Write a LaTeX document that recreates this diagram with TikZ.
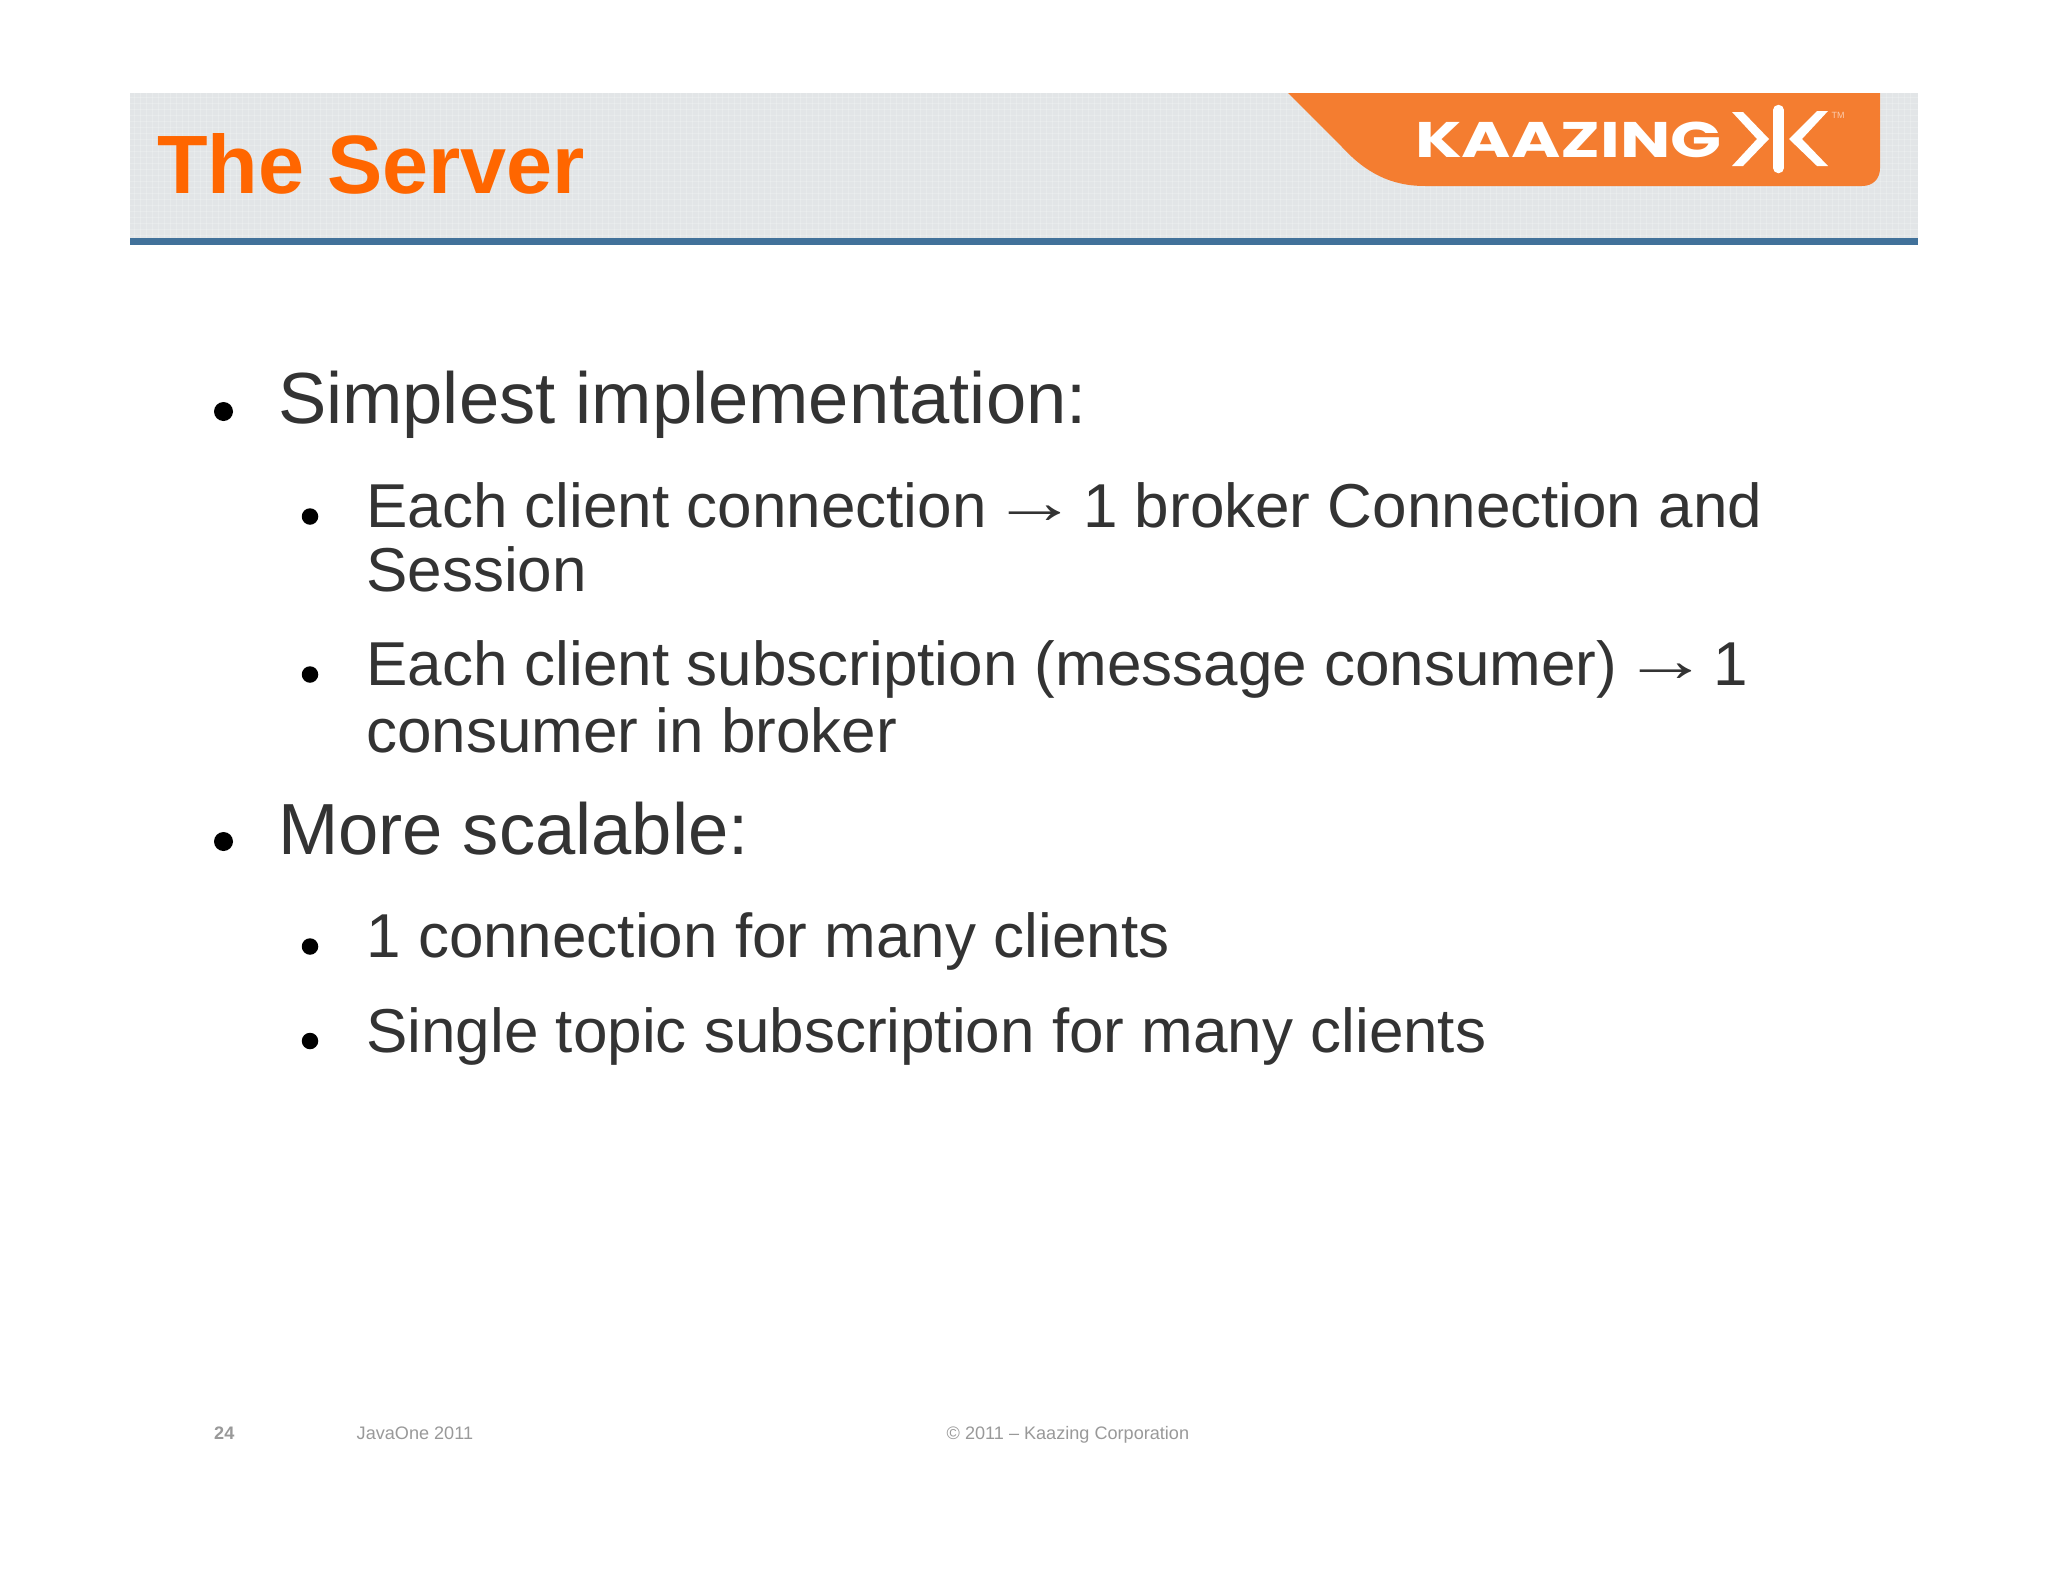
\documentclass[tikz,border=0pt]{standalone}
\usepackage{fontspec}
\setmainfont{Liberation Sans}
\newfontfamily\logofont{Poppins}
\definecolor{bandgrey}{HTML}{E2E5E7}
\definecolor{bandblue}{HTML}{41719A}
\definecolor{logoorange}{HTML}{F47D30}
\definecolor{titleorange}{HTML}{FF6600}
\definecolor{bodygrey}{HTML}{333333}
\definecolor{footgrey}{HTML}{999999}
\newcommand{\slidearrow}{\makebox[62pt]{\raisebox{4pt}{\scalebox{1.4}[1]{→}}}}
\tikzset{
	txt/.style={anchor=base west, inner sep=0pt, outer sep=0pt, text=bodygrey},
	lvlone/.style={txt, font=\fontsize{72.4}{72}\selectfont},
	lvltwo/.style={txt, font=\fontsize{62}{62}\selectfont},
	foot/.style={anchor=base west, inner sep=0pt, text=footgrey, font=\fontsize{18.1}{18}\selectfont},
	dotone/.style={circle, fill=black, inner sep=0pt, minimum size=19pt},
	dottwo/.style={circle, fill=black, inner sep=0pt, minimum size=16.5pt}
}
\begin{document}
\begin{tikzpicture}[x=1pt,y=1pt]
				\useasboundingbox (0, 0) rectangle (2048, -1582);
				\fill[white] (0, 0) rectangle (2048, -1582);
				
				\fill[bandgrey] (130, -93) rectangle (1918, -238);
				\foreach \gx in {134,140,...,1915} \draw[white, opacity=0.2, line width=1pt] (\gx, -93) -- (\gx, -238);
				\foreach \gy in {-97,-103,...,-236} \draw[white, opacity=0.2, line width=1pt] (130, \gy) -- (1918, \gy);
				\fill[bandblue] (130, -238) rectangle (1918, -245);
				
				\fill[logoorange] (1288, -93) -- (1880, -93) -- (1880, -168) .. controls (1880, -179) and (1873, -186) .. (1862, -186) -- (1425, -186) .. controls (1390, -186) and (1365, -172) .. (1342, -147) -- cycle;
				
				\node[anchor=base west, inner sep=0pt, text=titleorange, font=\fontsize{82.8}{83}\selectfont\bfseries] (title) at (157, -193) {The Server};
				\node[anchor=base west, inner sep=0pt, text=white, font=\logofont\fontsize{50}{50}\selectfont\bfseries] (logotext) at (1415, -157) {\scalebox{1.34}[1]{KAAZING}};
				
				\fill[white] (1732, -112) -- (1743, -112) -- (1769, -139) -- (1743, -166) -- (1732, -166) -- (1757, -139) -- cycle;
				\fill[white] (1828, -111) -- (1817, -111) -- (1789, -139) -- (1817, -166) -- (1828, -166) -- (1802, -139) -- cycle;
				\draw[white, line width=10.5pt, line cap=round] (1778.5, -110) -- (1778.5, -168);
				\node[inner sep=0pt, text=white!60!logoorange, font=\fontsize{9}{9}\selectfont] (logotm) at (1838, -115) {TM};
				
				\node[dotone] (dotsimplest) at (223.5, -411.5) {};
				\node[lvlone] (simplest) at (278, -423) {Simplest implementation:};
				
				\node[dottwo] (dotconn) at (310, -516.5) {};
				\node[lvltwo] (conn) at (366.4, -527) {Each client connection \slidearrow\ 1 broker Connection and};
				\node[lvltwo] (session) at (366.4, -591) {Session};
				
				\node[dottwo] (dotsub) at (310, -674.5) {};
				\node[lvltwo] (sub) at (366.4, -685) {Each client subscription (message consumer) \slidearrow\ 1};
				\node[lvltwo] (cons) at (366.4, -752) {consumer in broker};
				
				\node[dotone] (dotscal) at (223.5, -841.5) {};
				\node[lvlone] (scal) at (278, -854) {More scalable:};
				
				\node[dottwo] (dotone) at (310, -946.5) {};
				\node[lvltwo] (oneconn) at (366.4, -957) {1 connection for many clients};
				
				\node[dottwo] (dottopic) at (310, -1041) {};
				\node[lvltwo] (topic) at (366.4, -1052) {Single topic subscription for many clients};
				
				\node[foot, font=\fontsize{18.1}{18}\selectfont\bfseries] (pagenum) at (214, -1439) {24};
				\node[foot] (event) at (356.5, -1439) {JavaOne 2011};
				\node[foot] (copy) at (946.5, -1439) {© 2011 – Kaazing Corporation};
			\end{tikzpicture}
\end{document}
